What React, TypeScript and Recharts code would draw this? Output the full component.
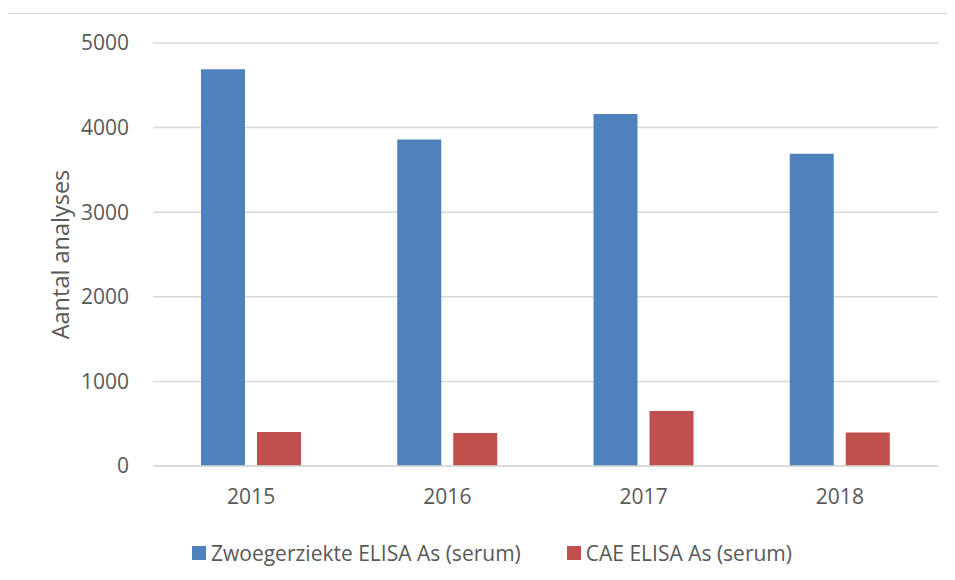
import React from 'react';
import { BarChart, Bar, XAxis, YAxis, CartesianGrid, Legend, Label } from 'recharts';

const years = ['2015', '2016', '2017', '2018'];
const zwoegerziekte = [4690, 3860, 4160, 3690];
const cae = [402, 390, 650, 395];
const seriesNames = ['Zwoegerziekte ELISA As (serum)', 'CAE ELISA As (serum)'];
const yTicks = [0, 1000, 2000, 3000, 4000, 5000];

const FONT = '"Open Sans", sans-serif';
const TEXT = '#595959';
const GRID = '#d9d9d9';

const chartData = years.map((year, i) => ({
  year,
  zwoeg: zwoegerziekte[i],
  cae: cae[i],
}));

const renderYLabel = (props: any) => {
  const vb = props.viewBox || {};
  const cx = 52;
  const cy = (vb.y ?? 0) + (vb.height ?? 0) / 2;
  return (
    <text
      x={cx}
      y={cy}
      transform={`rotate(-90, ${cx}, ${cy})`}
      textAnchor="middle"
      dominantBaseline="central"
      fill={TEXT}
      fontSize={23.5}
      fontFamily={FONT}
    >
      Aantal analyses
    </text>
  );
};

const renderLegend = (props: any) => {
  const payload = [...(props.payload || [])].sort(
    (a: any, b: any) => seriesNames.indexOf(a.value) - seriesNames.indexOf(b.value)
  );
  return (
    <div
      style={{
        display: 'flex',
        justifyContent: 'center',
        alignItems: 'center',
        height: 30,
        marginLeft: 38,
        fontFamily: FONT,
        fontSize: 21,
        color: TEXT,
      }}
    >
      {payload.map((entry: any, i: number) => (
        <div key={i} style={{ display: 'flex', alignItems: 'center', marginRight: i === 0 ? 46 : 0 }}>
          <span style={{ width: 14, height: 14, background: entry.color, marginRight: 5, display: 'inline-block' }} />
          <span>{entry.value}</span>
        </div>
      ))}
    </div>
  );
};

const App: React.FC = () => {
  return (
    <div
      style={{
        marginTop: 5,
        marginLeft: -1,
        width: 947,
        height: 566,
        borderTop: `1px solid ${GRID}`,
        borderLeft: `1px solid ${GRID}`,
        background: '#fff',
      }}
    >
      <BarChart
        width={947}
        height={566}
        data={chartData}
        margin={{ top: 29, right: 17, left: 0, bottom: 12 }}
        barGap={12}
        barSize={44}
      >
        <CartesianGrid vertical={false} stroke={GRID} strokeWidth={1.5} />
        <XAxis
          dataKey="year"
          height={72}
          axisLine={{ stroke: GRID, strokeWidth: 1.5 }}
          tickLine={false}
          tickSize={6}
          tickMargin={17}
          tick={{ fill: TEXT, fontSize: 21, fontFamily: FONT }}
        />
        <YAxis
          width={145}
          domain={[0, 5000]}
          ticks={yTicks}
          axisLine={false}
          tickLine={false}
          tickSize={6}
          tickMargin={18}
          tick={{ fill: TEXT, fontSize: 21, fontFamily: FONT }}
        >
          <Label content={renderYLabel} />
        </YAxis>
        <Legend verticalAlign="bottom" content={renderLegend} />
        <Bar dataKey="zwoeg" name={seriesNames[0]} fill="#4f81bd" isAnimationActive={false} />
        <Bar dataKey="cae" name={seriesNames[1]} fill="#c0504d" isAnimationActive={false} />
      </BarChart>
    </div>
  );
};

export default App;
